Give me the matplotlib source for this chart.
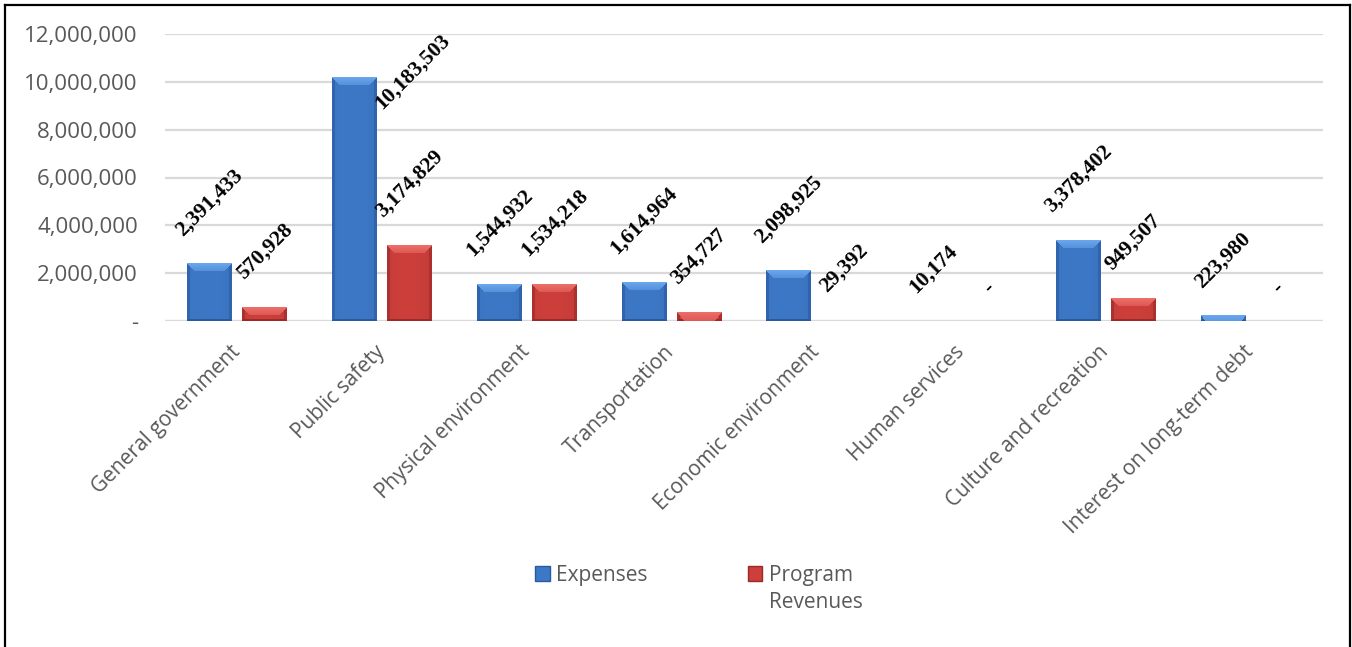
import matplotlib
matplotlib.use("Agg")
import matplotlib.pyplot as plt
from matplotlib.lines import Line2D
from matplotlib.ticker import FuncFormatter
import numpy as np

categories = ['General government', 'Public safety', 'Physical environment',
              'Transportation', 'Economic environment', 'Human services',
              'Culture and recreation', 'Interest on long-term debt']
expenses = [2391433, 10183503, 1544932, 1614964, 2098925, 10174, 3378402, 223980]
revenues = [570928, 3174829, 1534218, 354727, 29392, 0, 949507, 0]
series_names = ['Expenses', 'Program']
yticks = [0, 2000000, 4000000, 6000000, 8000000, 10000000, 12000000]

gray = '#595959'
grid_c = '#d9d9d9'
# (top bevel, body, edge)
blue = ('#6aa6ec', '#3d78c6', '#2a5a9e')
red = ('#ec6e69', '#cc3f3b', '#9c2a28')

W, H, DPI = 1352, 647, 100
fig = plt.figure(figsize=(W / DPI, H / DPI), dpi=DPI)
ax = fig.add_axes([165 / W, 1 - 321 / H, (1323 - 165) / W, (321 - 34) / H])

x = np.arange(len(categories))
bw = 0.31
off = 0.19
b1 = ax.bar(x - off, expenses, bw, color=blue[1], zorder=3)
b2 = ax.bar(x + off, revenues, bw, color=red[1], zorder=3)

ax.set_xlim(-0.5, len(categories) - 0.5)
ax.set_ylim(0, 12000000)
ax.set_yticks(yticks)
ax.yaxis.set_major_formatter(FuncFormatter(lambda v, p: '-' if v == 0 else f'{int(v):,}'))
ax.grid(axis='y', color=grid_c, lw=1.6, zorder=0)
for s in ax.spines.values():
    s.set_visible(False)
ax.axhline(0, color=grid_c, lw=2.2, zorder=2)
ax.tick_params(axis='y', length=0, pad=19.5, labelsize=16, labelcolor=gray)
ax.tick_params(axis='x', length=0, pad=20, labelsize=15, labelcolor=gray)
ax.set_xticks(x)
ax.set_xticklabels(categories, rotation=45, ha='right', va='center',
                   rotation_mode='anchor', fontfamily='Open Sans')
for t in ax.get_yticklabels():
    t.set_fontfamily('Open Sans')

fig.canvas.draw()


def bevel(rect, cols):
    x0, y0 = rect.get_x(), rect.get_y()
    x1, y1 = x0 + rect.get_width(), y0 + rect.get_height()
    (px0, py0), (px1, py1) = ax.transData.transform([(x0, y0), (x1, y1)])
    wp = max(1, int(round(px1 - px0)))
    hp = int(round(py1 - py0))
    rect.set_visible(False)
    if hp < 2:
        return
    top, body, edge = [np.array(matplotlib.colors.to_rgb(c)) for c in cols]
    rr, cc = np.mgrid[0:hp, 0:wp]
    dt, db = rr, hp - 1 - rr
    dl, dr = cc, wp - 1 - cc
    ds = np.minimum(dl, dr)
    # body: lighter in the middle, darker towards the sides
    u = np.abs(cc - (wp - 1) * 0.45) / (wp / 2)
    k = (0.12 * u ** 2)[..., None]
    img = body * (1 - k) + edge * k
    # side bevels
    side = (ds < 3)[..., None]
    img = np.where(side, body * 0.35 + edge * 0.65, img)
    # bottom edge
    bot = ((db < 2) & (db <= ds))[..., None]
    img = np.where(bot, edge, img)
    # top bevel (light trapezoid)
    b = 8
    tmask = (dt < b) & (dt <= ds)
    t = (dt / b)[..., None]
    img = np.where(tmask[..., None], top * (1 - t * 0.5) + body * (t * 0.5), img)
    ax.imshow(np.clip(img, 0, 1), extent=(x0, x1, y0, y1), aspect='auto', origin='upper',
              interpolation='nearest', zorder=3)


for rect in list(b1) + list(b2):
    bevel(rect, blue if rect in b1 else red)

ax.set_xlim(-0.5, len(categories) - 0.5)
ax.set_ylim(0, 12000000)


def lab(v):
    return '-' if v == 0 else f'{v:,}'


lab_font = dict(family='Liberation Serif', weight='bold', size=15.5, color='black')
for i, v in enumerate(expenses):
    dx, dy, va = 0, 24, 'bottom'
    if v > 10000000:
        dx, dy, va = 58, 6, 'center'
    ax.annotate(lab(v), (x[i] - off, v), xytext=(dx, dy), textcoords='offset pixels',
                ha='center', va=va, rotation=45, zorder=5, **lab_font)
for i, v in enumerate(revenues):
    ax.annotate(lab(v), (x[i] + off, v), xytext=(0, 24), textcoords='offset pixels',
                ha='center', va='bottom', rotation=45, zorder=5, **lab_font)

leg = fig.legend([b1, b2], series_names, loc='center', bbox_to_anchor=(694 / W, 1 - 575 / H),
                 ncol=2, frameon=False, handlelength=0.7, handleheight=0.7,
                 handletextpad=0.3, columnspacing=4.8, labelcolor=gray,
                 prop={'family': 'Open Sans', 'size': 15})
for h, c in zip(leg.legend_handles, (blue, red)):
    h.set_visible(True)
    h.set_facecolor(c[1])
    h.set_edgecolor(c[2])
    h.set_linewidth(1)

fig.canvas.draw()
pt = leg.get_texts()[1]
bb = pt.get_window_extent()
fig.text(bb.x0 / W, (bb.y0 - 6) / H, 'Revenues', ha='left', va='top', color=gray,
         fontfamily='Open Sans', fontsize=15)

fig.add_artist(Line2D([5 / W, 5 / W], [0, 1 - 5 / H], color='black', lw=1.6))
fig.add_artist(Line2D([5 / W, 1350 / W], [1 - 5 / H, 1 - 5 / H], color='black', lw=1.6))
fig.add_artist(Line2D([1350 / W, 1350 / W], [0, 1 - 5 / H], color='black', lw=1.6))

fig.savefig('out.png', dpi=DPI)
